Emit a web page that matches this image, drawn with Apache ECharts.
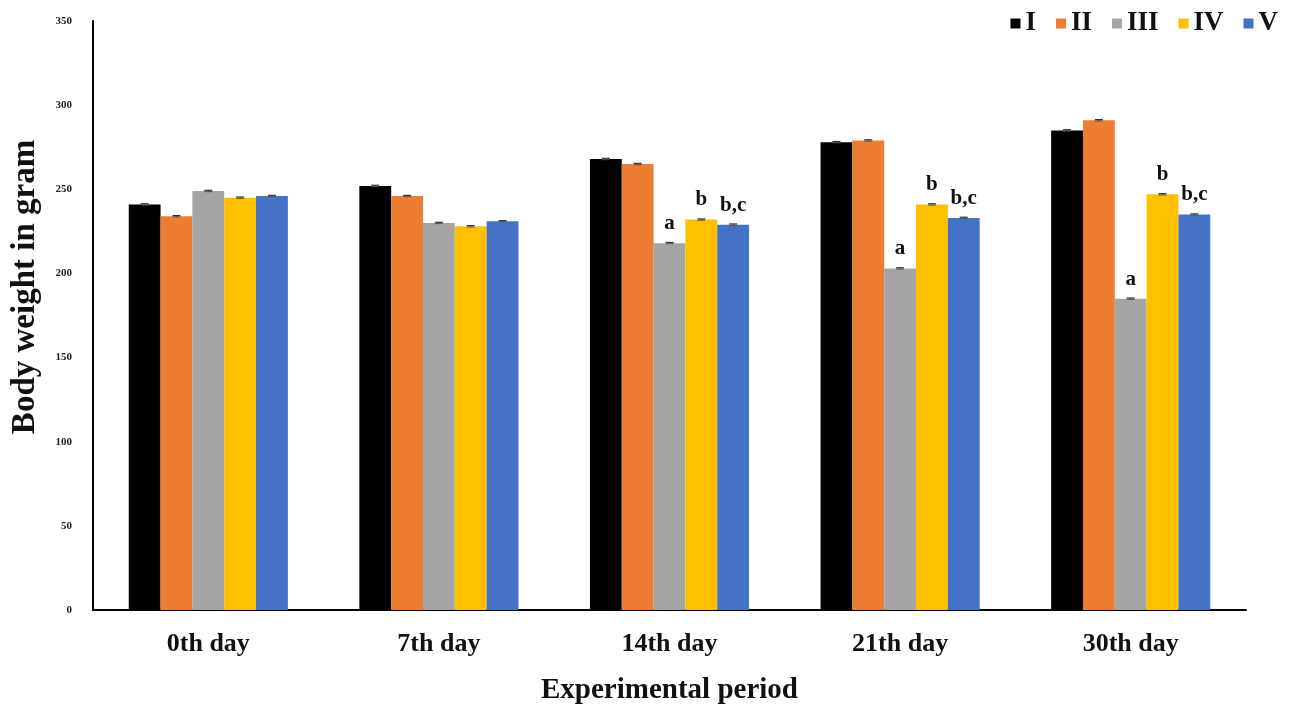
<!DOCTYPE html>
<html><head><meta charset="utf-8">
<script src="https://cdn.jsdelivr.net/npm/echarts@6/dist/echarts.min.js"></script>
<style>html,body{margin:0;padding:0;background:#fff}#c{width:1291px;height:708px}</style>
</head><body><div id="c"></div>
<script>
const categories = ['0th day','7th day','14th day','21th day','30th day'];
const seriesNames = ['I','II','III','IV','V'];
const colors = ['#000000','#ED7D31','#A5A5A5','#FFC000','#4472C4'];
const valuesI   = [241, 252, 268, 278, 285];
const valuesII  = [234, 246, 265, 279, 291];
const valuesIII = [249, 230, 218, 203, 185];
const valuesIV  = [245, 228, 232, 241, 247];
const valuesV   = [246, 231, 229, 233, 235];
const errorBars = 0.4;
const labelsIII = ['', '', 'a', 'a', 'a'];
const labelsIV  = ['', '', 'b', 'b', 'b'];
const labelsV   = ['', '', 'b,c', 'b,c', 'b,c'];
const yTicks = [0, 50, 100, 150, 200, 250, 300, 350];
const yTitle = 'Body weight in gram';
const xTitle = 'Experimental period';

const allValues = [valuesI, valuesII, valuesIII, valuesIV, valuesV];
const allLabels = [null, null, labelsIII, labelsIV, labelsV];
const catGap = 0.31;
const font = 'Liberation Serif';

const series = [];
allValues.forEach((vals, i) => {
  series.push({
    name: seriesNames[i], type: 'bar', barGap: '0%', barCategoryGap: (catGap*100)+'%',
    itemStyle: {color: colors[i]},
    data: vals.map((v, j) => ({
      value: v,
      label: allLabels[i] && allLabels[i][j] ? {show: true, position: 'top', distance: 9,
        formatter: allLabels[i][j], fontFamily: font, fontWeight: 'bold', fontSize: 21, color: '#111'} : {show: false}
    }))
  });
});
// error bar caps
allValues.forEach((vals, i) => {
  series.push({
    type: 'custom', silent: true, z: 5,
    data: vals.map((v, j) => [j, v]),
    renderItem: function(params, api) {
      const catW = api.size([1, 0])[0];
      const barW = catW * (1 - catGap) / 5;
      const p = api.coord([api.value(0), api.value(1)]);
      const cx = p[0] + (i - 2) * barW;
      const top = api.coord([api.value(0), api.value(1) + errorBars])[1];
      const bot = api.coord([api.value(0), api.value(1) - errorBars])[1];
      const half = 4;
      return {type: 'group', children: [
        {type: 'line', shape: {x1: cx, y1: top, x2: cx, y2: bot}, style: {stroke: '#333', lineWidth: 1}},
        {type: 'line', shape: {x1: cx - half, y1: top, x2: cx + half, y2: top}, style: {stroke: '#333', lineWidth: 1.2}},
        {type: 'line', shape: {x1: cx - half, y1: bot, x2: cx + half, y2: bot}, style: {stroke: '#555', lineWidth: 1}}
      ]};
    }
  });
});

const chart = echarts.init(document.getElementById('c'));
chart.setOption({
  animation: false,
  textStyle: {fontFamily: font},
  legend: {
    data: seriesNames, right: 8, top: 5, itemWidth: 10, itemHeight: 10, itemGap: 20,
    icon: 'rect',
    textStyle: {fontFamily: font, fontWeight: 'bold', fontSize: 27, color: '#111', padding: [0,0,0,0]}
  },
  graphic: [{
    type: 'text', x: 25, y: 287, rotation: Math.PI / 2,
    style: {text: yTitle, fontFamily: font, fontWeight: 'bold', fontSize: 33, fill: '#111',
      align: 'center', verticalAlign: 'middle'}
  }],
  grid: {left: 93, right: 45, top: 21, bottom: 98, outerBoundsMode: 'none', containLabel: false},
  xAxis: {
    type: 'category', data: categories,
    axisLine: {lineStyle: {color: '#000', width: 2}},
    axisTick: {show: false},
    axisLabel: {fontFamily: font, fontWeight: 'bold', fontSize: 26, color: '#111', margin: 21},
    name: xTitle, nameLocation: 'middle', nameGap: 66,
    nameTextStyle: {fontFamily: font, fontWeight: 'bold', fontSize: 29, color: '#111'}
  },
  yAxis: {
    type: 'value', min: 0, max: 350, interval: 50,
    splitLine: {show: false},
    axisLine: {show: true, lineStyle: {color: '#000', width: 2}},
    axisTick: {show: false},
    axisLabel: {fontFamily: font, fontWeight: 'bold', fontSize: 11, color: '#222', margin: 21,
      formatter: v => yTicks.includes(v) ? String(v) : ''}
  },
  series: series
});
</script></body></html>
